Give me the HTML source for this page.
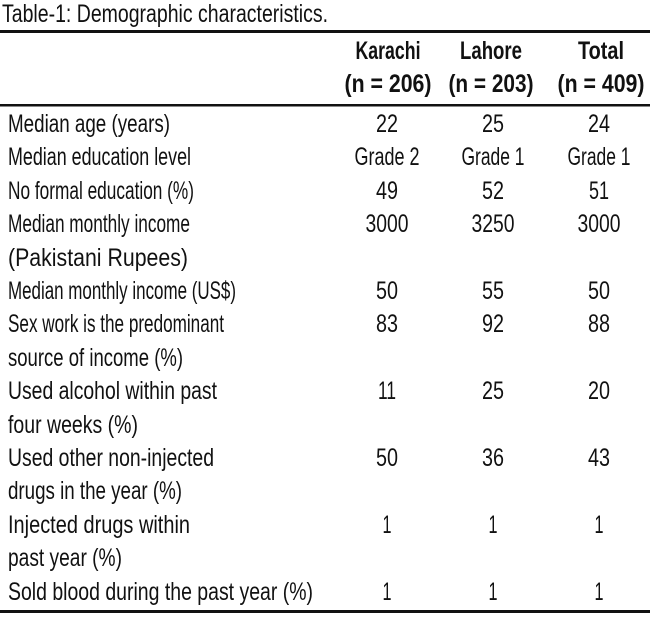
<!DOCTYPE html>
<html><head><meta charset="utf-8"><style>
html,body{margin:0;padding:0;background:#fff;}
svg{display:block;}
text{font-family:"Liberation Sans",sans-serif;font-size:25px;fill:#111;}
.b{font-weight:bold;}
.c{text-anchor:middle;}
</style></head><body>
<svg width="650" height="624" viewBox="0 0 650 624" xmlns="http://www.w3.org/2000/svg">
<text x="2" y="22" textLength="326" lengthAdjust="spacingAndGlyphs">Table-1: Demographic characteristics.</text>
<rect x="0" y="30" width="650" height="3" fill="#111"/>
<text class="b c" x="388" y="59" textLength="65" lengthAdjust="spacingAndGlyphs">Karachi</text>
<text class="b c" x="491" y="59" textLength="62" lengthAdjust="spacingAndGlyphs">Lahore</text>
<text class="b c" x="601" y="59" textLength="46" lengthAdjust="spacingAndGlyphs">Total</text>
<text class="b c" x="388" y="92" textLength="87" lengthAdjust="spacingAndGlyphs">(n = 206)</text>
<text class="b c" x="491" y="92" textLength="85" lengthAdjust="spacingAndGlyphs">(n = 203)</text>
<text class="b c" x="601" y="92" textLength="87" lengthAdjust="spacingAndGlyphs">(n = 409)</text>
<rect x="0" y="104" width="650" height="2.5" fill="#111"/>

<text x="8" y="132" textLength="162" lengthAdjust="spacingAndGlyphs">Median age (years)</text>
<text x="8" y="165" textLength="183" lengthAdjust="spacingAndGlyphs">Median education level</text>
<text x="8" y="199" textLength="186" lengthAdjust="spacingAndGlyphs">No formal education (%)</text>
<text x="8" y="232" textLength="182" lengthAdjust="spacingAndGlyphs">Median monthly income</text>
<text x="8" y="266" textLength="180" lengthAdjust="spacingAndGlyphs">(Pakistani Rupees)</text>
<text x="8" y="299" textLength="228" lengthAdjust="spacingAndGlyphs">Median monthly income (US$)</text>
<text x="8" y="332" textLength="216" lengthAdjust="spacingAndGlyphs">Sex work is the predominant</text>
<text x="8" y="366" textLength="175" lengthAdjust="spacingAndGlyphs">source of income (%)</text>
<text x="8" y="399" textLength="209" lengthAdjust="spacingAndGlyphs">Used alcohol within past</text>
<text x="8" y="433" textLength="130" lengthAdjust="spacingAndGlyphs">four weeks (%)</text>
<text x="8" y="466" textLength="206" lengthAdjust="spacingAndGlyphs">Used other non-injected</text>
<text x="8" y="499" textLength="174" lengthAdjust="spacingAndGlyphs">drugs in the year (%)</text>
<text x="8" y="533" textLength="182" lengthAdjust="spacingAndGlyphs">Injected drugs within</text>
<text x="8" y="566" textLength="114" lengthAdjust="spacingAndGlyphs">past year (%)</text>
<text x="8" y="600" textLength="305" lengthAdjust="spacingAndGlyphs">Sold blood during the past year (%)</text>

<g>
<text class="c" x="387" y="132" textLength="22" lengthAdjust="spacingAndGlyphs">22</text><text class="c" x="493" y="132" textLength="22" lengthAdjust="spacingAndGlyphs">25</text><text class="c" x="599" y="132" textLength="22" lengthAdjust="spacingAndGlyphs">24</text>
<text class="c" x="387" y="165" textLength="65" lengthAdjust="spacingAndGlyphs">Grade 2</text><text class="c" x="493" y="165" textLength="63" lengthAdjust="spacingAndGlyphs">Grade 1</text><text class="c" x="599" y="165" textLength="63" lengthAdjust="spacingAndGlyphs">Grade 1</text>
<text class="c" x="387" y="199" textLength="22" lengthAdjust="spacingAndGlyphs">49</text><text class="c" x="493" y="199" textLength="22" lengthAdjust="spacingAndGlyphs">52</text><text class="c" x="599" y="199" textLength="20" lengthAdjust="spacingAndGlyphs">51</text>
<text class="c" x="387" y="232" textLength="43" lengthAdjust="spacingAndGlyphs">3000</text><text class="c" x="493" y="232" textLength="43" lengthAdjust="spacingAndGlyphs">3250</text><text class="c" x="599" y="232" textLength="43" lengthAdjust="spacingAndGlyphs">3000</text>
<text class="c" x="387" y="299" textLength="22" lengthAdjust="spacingAndGlyphs">50</text><text class="c" x="493" y="299" textLength="22" lengthAdjust="spacingAndGlyphs">55</text><text class="c" x="599" y="299" textLength="22" lengthAdjust="spacingAndGlyphs">50</text>
<text class="c" x="387" y="332" textLength="22" lengthAdjust="spacingAndGlyphs">83</text><text class="c" x="493" y="332" textLength="22" lengthAdjust="spacingAndGlyphs">92</text><text class="c" x="599" y="332" textLength="22" lengthAdjust="spacingAndGlyphs">88</text>
<text class="c" x="387" y="399" textLength="18" lengthAdjust="spacingAndGlyphs">11</text><text class="c" x="493" y="399" textLength="22" lengthAdjust="spacingAndGlyphs">25</text><text class="c" x="599" y="399" textLength="22" lengthAdjust="spacingAndGlyphs">20</text>
<text class="c" x="387" y="466" textLength="22" lengthAdjust="spacingAndGlyphs">50</text><text class="c" x="493" y="466" textLength="22" lengthAdjust="spacingAndGlyphs">36</text><text class="c" x="599" y="466" textLength="22" lengthAdjust="spacingAndGlyphs">43</text>
<text class="c" x="387" y="533" textLength="9" lengthAdjust="spacingAndGlyphs">1</text><text class="c" x="493" y="533" textLength="9" lengthAdjust="spacingAndGlyphs">1</text><text class="c" x="599" y="533" textLength="9" lengthAdjust="spacingAndGlyphs">1</text>
<text class="c" x="387" y="600" textLength="9" lengthAdjust="spacingAndGlyphs">1</text><text class="c" x="493" y="600" textLength="9" lengthAdjust="spacingAndGlyphs">1</text><text class="c" x="599" y="600" textLength="9" lengthAdjust="spacingAndGlyphs">1</text>
</g>
<rect x="0" y="610" width="650" height="3" fill="#111"/>
</svg>
</body></html>
